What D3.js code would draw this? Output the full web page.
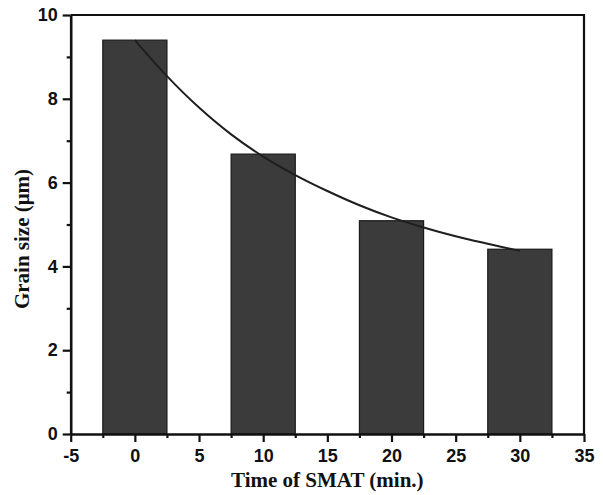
<!DOCTYPE html>
<html>
<head>
<meta charset="utf-8">
<script src="https://cdn.jsdelivr.net/npm/d3@7"></script>
<style>
  body { margin: 0; background: #fff; }
  svg { display: block; }
</style>
</head>
<body>
<div id="chart"></div>
<script>
// bar values
var times = [0, 10, 20, 30];
var grainSizes = [9.4, 6.68, 5.09, 4.41];

// fitted decay curve
var fitTimes = [0, 2.5, 5, 7.5, 10, 12.5, 15, 17.5, 20, 22.5, 25, 27.5, 30];
var fitSizes = [9.4, 8.54, 7.79, 7.15, 6.62, 6.18, 5.8, 5.46, 5.17, 4.93, 4.72, 4.54, 4.37];

var xTicks = [-5, 0, 5, 10, 15, 20, 25, 30, 35];
var yTicks = [0, 2, 4, 6, 8, 10];

var width = 603,
  height = 495
var plotLeft = 70.7, plotRight = 584, plotTop = 15, plotBottom = 434

var svg = d3
  .select("#chart")
  .append("svg")
  .attr("width", width)
  .attr("height", height)

var x = d3.scaleLinear().domain([-5, 35]).range([plotLeft, plotRight])
var y = d3.scaleLinear().domain([0, 10]).range([plotBottom, plotTop])

// bars
svg.append("g")
  .selectAll("rect")
  .data(times)
  .enter()
  .append("rect")
  .attr("x", function (d) { return x(d - 2.5); })
  .attr("width", function (d) { return x(d + 2.5) - x(d - 2.5); })
  .attr("y", function (d, i) { return y(grainSizes[i]); })
  .attr("height", function (d, i) { return y(0) - y(grainSizes[i]); })
  .attr("fill", "#3b3b3b")
  .attr("stroke", "#1a1a1a")
  .attr("stroke-width", 1.2)

// fit curve
var line = d3.line()
  .x(function (d) { return x(d); })
  .y(function (d, i) { return y(fitSizes[i]); })
  .curve(d3.curveCatmullRom)

svg.append("path")
  .datum(fitTimes)
  .attr("d", line)
  .attr("fill", "none")
  .attr("stroke", "#1e1e1e")
  .attr("stroke-width", 2)

// frame: top and right
svg.append("path")
  .attr("d", "M" + plotLeft + "," + plotTop + "H" + plotRight + "V" + plotBottom)
  .attr("fill", "none")
  .attr("stroke", "#111")
  .attr("stroke-width", 2.2)

// minor ticks
var xMinor = d3.range(-2.5, 35, 5)
var yMinor = d3.range(1, 10, 2)
var plain = function (d) { return String(d); }

svg.append("g")
  .attr("transform", "translate(0," + plotBottom + ")")
  .call(d3.axisBottom(x).tickValues(xTicks).tickFormat(plain).tickSize(8).tickPadding(7).tickSizeOuter(0))
svg.append("g")
  .attr("transform", "translate(0," + plotBottom + ")")
  .call(d3.axisBottom(x).tickValues(xMinor).tickSize(4).tickFormat("").tickSizeOuter(0))
  .select(".domain").remove()

svg.append("g")
  .attr("transform", "translate(" + plotLeft + ",0)")
  .call(d3.axisLeft(y).tickValues(yTicks).tickFormat(plain).tickSize(8).tickPadding(5).tickSizeOuter(0))
svg.append("g")
  .attr("transform", "translate(" + plotLeft + ",0)")
  .call(d3.axisLeft(y).tickValues(yMinor).tickSize(4).tickFormat("").tickSizeOuter(0))
  .select(".domain").remove()

svg.selectAll(".domain").attr("stroke", "#111").attr("stroke-width", 2.6)
svg.selectAll(".tick line").attr("stroke", "#111").attr("stroke-width", 2.2)
svg.selectAll(".tick text")
  .attr("fill", "#111")
  .style("font-family", "'Liberation Sans', Arial, sans-serif")
  .style("font-weight", "bold")
  .style("font-size", "18px")

// axis titles
svg.append("text")
  .attr("x", (plotLeft + plotRight) / 2)
  .attr("y", 487)
  .attr("text-anchor", "middle")
  .style("font-family", "'Liberation Serif', 'Times New Roman', serif")
  .style("font-weight", "bold")
  .style("font-size", "21px")
  .attr("fill", "#111")
  .text("Time of SMAT (min.)")

svg.append("text")
  .attr("transform", "translate(29,239) rotate(-90)")
  .attr("text-anchor", "middle")
  .style("font-family", "'Liberation Serif', 'Times New Roman', serif")
  .style("font-weight", "bold")
  .style("font-size", "21px")
  .attr("fill", "#111")
  .text("Grain size (μm)")
</script>
</body>
</html>
